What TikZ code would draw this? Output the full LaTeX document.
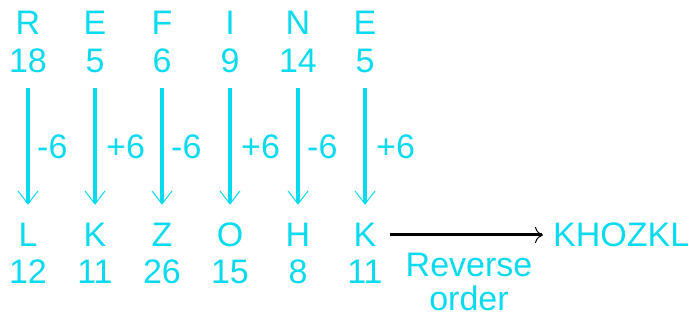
\documentclass[tikz,border=0pt]{standalone}
\usepackage{fontspec}
\setmainfont{Liberation Sans}
\usetikzlibrary{arrows.meta}
\definecolor{celeste}{RGB}{10,218,238}
\begin{document}
\begin{tikzpicture}[x=1pt, y=-1pt,
  txt/.style={text=celeste, font=\fontsize{34}{36}\selectfont, inner sep=0pt, text height=24pt, text depth=0pt},
  flecha/.style={draw=celeste, line width=3.2pt, -{Straight Barb[length=13pt,width=20pt,line width=1pt]}, shorten <=15pt, shorten >=18pt}]
\useasboundingbox (0,0) rectangle (690,320);

% Palabra original
\node[txt] (r) at (28,23) {R};
\node[txt] (e1) at (95,23) {E};
\node[txt] (f) at (162,23) {F};
\node[txt] (i) at (230,23) {I};
\node[txt] (n) at (298,23) {N};
\node[txt] (e2) at (365,23) {E};

\node[txt] (n1) at (28,61) {18};
\node[txt] (n2) at (95,61) {5};
\node[txt] (n3) at (162,61) {6};
\node[txt] (n4) at (230,61) {9};
\node[txt] (n5) at (298,61) {14};
\node[txt] (n6) at (365,61) {5};

% Palabra codificada
\node[txt] (l) at (28,235) {L};
\node[txt] (k1) at (95,235) {K};
\node[txt] (z) at (162,235) {Z};
\node[txt] (o) at (230,235) {O};
\node[txt] (h) at (298,235) {H};
\node[txt] (k2) at (365,235) {K};

\node[txt] (m1) at (28,271) {12};
\node[txt] (m2) at (95,271) {11};
\node[txt] (m3) at (162,271) {26};
\node[txt] (m4) at (230,271) {15};
\node[txt] (m5) at (298,271) {8};
\node[txt] (m6) at (365,271) {11};

% Flechas
\draw[flecha] (n1.south) -- (l.north);
\draw[flecha] (n2.south) -- (k1.north);
\draw[flecha] (n3.south) -- (z.north);
\draw[flecha] (n4.south) -- (o.north);
\draw[flecha] (n5.south) -- (h.north);
\draw[flecha] (n6.south) -- (k2.north);

% Etiquetas
\node[txt, anchor=west] (s1) at (37,147) {-6};
\node[txt, anchor=west] (s2) at (106,147) {+6};
\node[txt, anchor=west] (s3) at (171,147) {-6};
\node[txt, anchor=west] (s4) at (241,147) {+6};
\node[txt, anchor=west] (s5) at (307,147) {-6};
\node[txt, anchor=west] (s6) at (376,147) {+6};

% Resultado
\node[txt, anchor=west] (res) at (553,235) {KHOZKL};
\draw[line width=3pt, -{To[length=8pt,width=16pt,line width=1pt]}, shorten <=13pt, shorten >=10pt] (k2.east) -- (res.west);
\node[text=celeste, font=\fontsize{34}{34}\selectfont, inner sep=0pt, align=center, anchor=north] (rev) at (469,253) {Reverse\\order};
\end{tikzpicture}
\end{document}
